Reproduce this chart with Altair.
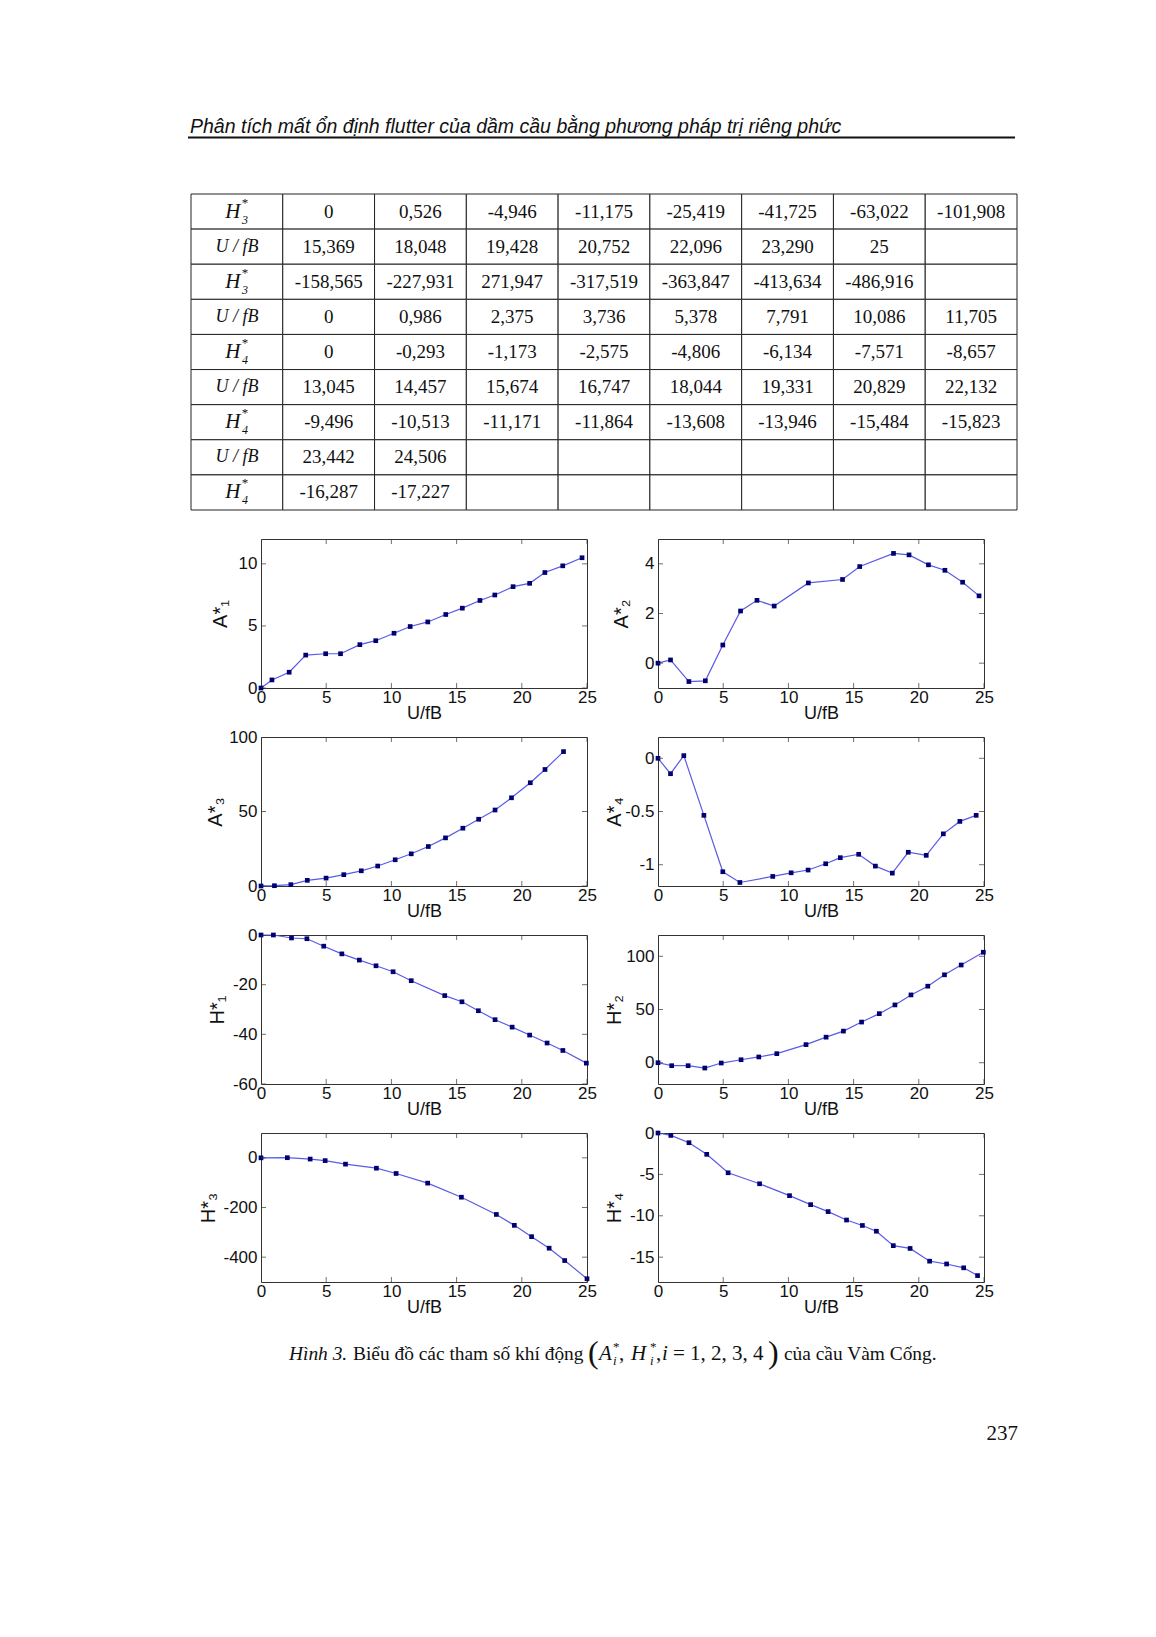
import altair as alt
import pandas as pd

SANS = "Liberation Sans, Arial, sans-serif"
SERIF = "Liberation Serif, Times New Roman, serif"
INK = "#111111"
FRAME = "#333333"
LINE = "#5a5ae6"
POINT = "#000070"

# ---------------- text content ----------------
HEADER = "Phân tích mất ổn định flutter của dầm cầu bằng phương pháp trị riêng phức"
CAPTION_LABEL = "Hình 3."
CAPTION_TEXT = "Biểu đồ các tham số khí động"
CAPTION_END = "của cầu Vàm Cống."
PAGE_NUMBER = "237"

# ---------------- table ----------------
ROW_SYMBOL = ["H", "U / fB", "H", "U / fB", "H", "U / fB", "H", "U / fB", "H"]
ROW_INDEX = ["3", "", "3", "", "4", "", "4", "", "4"]
TABLE_VALUES = [
    ["0", "0,526", "-4,946", "-11,175", "-25,419", "-41,725", "-63,022", "-101,908"],
    ["15,369", "18,048", "19,428", "20,752", "22,096", "23,290", "25", ""],
    ["-158,565", "-227,931", "271,947", "-317,519", "-363,847", "-413,634", "-486,916", ""],
    ["0", "0,986", "2,375", "3,736", "5,378", "7,791", "10,086", "11,705"],
    ["0", "-0,293", "-1,173", "-2,575", "-4,806", "-6,134", "-7,571", "-8,657"],
    ["13,045", "14,457", "15,674", "16,747", "18,044", "19,331", "20,829", "22,132"],
    ["-9,496", "-10,513", "-11,171", "-11,864", "-13,608", "-13,946", "-15,484", "-15,823"],
    ["23,442", "24,506", "", "", "", "", "", ""],
    ["-16,287", "-17,227", "", "", "", "", "", ""],
]

# ---------------- panel data ----------------
X_TICKS = [0, 5, 10, 15, 20, 25]

A1_X = [0, 0.84, 2.16, 3.43, 4.96, 6.10, 7.58, 8.80, 10.2, 11.44, 12.79, 14.17, 15.44, 16.79, 17.93, 19.33, 20.6, 21.77, 23.14, 24.62]
A1_Y = [0, 0.65, 1.27, 2.65, 2.76, 2.76, 3.49, 3.81, 4.41, 4.95, 5.32, 5.92, 6.43, 7.05, 7.49, 8.16, 8.43, 9.30, 9.84, 10.49]

A2_X = [0, 0.96, 2.37, 3.63, 4.97, 6.33, 7.59, 8.91, 11.53, 14.15, 15.47, 18.06, 19.25, 20.74, 22.0, 23.36, 24.62]
A2_Y = [0, 0.13, -0.74, -0.71, 0.73, 2.10, 2.53, 2.30, 3.23, 3.37, 3.89, 4.42, 4.36, 3.96, 3.74, 3.26, 2.71]

A3_X = [0, 1.03, 2.29, 3.55, 4.99, 6.35, 7.69, 8.95, 10.29, 11.52, 12.83, 14.15, 15.48, 16.69, 17.95, 19.21, 20.65, 21.78, 23.2]
A3_Y = [0, 0.2, 0.9, 3.8, 5.3, 7.6, 10.2, 13.4, 17.6, 21.6, 26.5, 32.3, 38.8, 44.8, 51.0, 59.2, 69.3, 78.2, 90.2]

A4_X = [0, 0.96, 1.98, 3.52, 4.97, 6.28, 8.80, 10.21, 11.51, 12.86, 13.98, 15.39, 16.67, 17.97, 19.19, 20.57, 21.88, 23.15, 24.40]
A4_Y = [0, -0.145, 0.025, -0.536, -1.066, -1.167, -1.110, -1.076, -1.050, -0.991, -0.934, -0.902, -1.013, -1.079, -0.883, -0.912, -0.710, -0.593, -0.536]

H1_X = [0, 0.95, 2.34, 3.52, 4.81, 6.2, 7.54, 8.82, 10.13, 11.52, 14.09, 15.41, 16.67, 17.95, 19.26, 20.6, 21.94, 23.15, 24.95]
H1_Y = [0, 0, -1.2, -1.5, -4.5, -7.6, -10.1, -12.4, -14.8, -18.4, -24.4, -26.9, -30.5, -34.1, -37.1, -40.3, -43.5, -46.5, -51.6]

H2_X = [0, 1.05, 2.31, 3.59, 4.85, 6.37, 7.73, 9.11, 11.35, 12.89, 14.22, 15.61, 16.97, 18.17, 19.4, 20.69, 21.97, 23.25, 24.95]
H2_Y = [0, -2.8, -2.8, -5.0, -0.3, 2.8, 5.4, 8.5, 17.0, 24.0, 29.7, 38.2, 46.1, 54.3, 63.7, 71.9, 82.6, 91.8, 103.8]

H3_X = [0, 2.02, 3.77, 4.92, 6.48, 8.85, 10.36, 12.78, 15.369, 18.048, 19.428, 20.752, 22.096, 23.290, 25]
H3_Y = [0, 0.526, -4.946, -11.175, -25.419, -41.725, -63.022, -101.908, -158.565, -227.931, -271.947, -317.519, -363.847, -413.634, -486.916]

H4_X = [0, 0.986, 2.375, 3.736, 5.378, 7.791, 10.086, 11.705, 13.045, 14.457, 15.674, 16.747, 18.044, 19.331, 20.829, 22.132, 23.442, 24.506]
H4_Y = [0, -0.293, -1.173, -2.575, -4.806, -6.134, -7.571, -8.657, -9.496, -10.513, -11.171, -11.864, -13.608, -13.946, -15.484, -15.823, -16.287, -17.227]

PANELS = [
    ("A*\u2081", A1_X, A1_Y, [0, 12], [0, 5, 10]),
    ("A*\u2082", A2_X, A2_Y, [-1, 5], [0, 2, 4]),
    ("A*\u2083", A3_X, A3_Y, [0, 100], [0, 50, 100]),
    ("A*\u2084", A4_X, A4_Y, [-1.2, 0.2], [-1, -0.5, 0]),
    ("H*\u2081", H1_X, H1_Y, [-60, 0], [-60, -40, -20, 0]),
    ("H*\u2082", H2_X, H2_Y, [-20, 120], [0, 50, 100]),
    ("H*\u2083", H3_X, H3_Y, [-500, 100], [-400, -200, 0]),
    ("H*\u2084", H4_X, H4_Y, [-18, 0], [-15, -10, -5, 0]),
]

# layout / style
PW, PH = 326, 149
YTITLE_X = [-31, -27, -36, -34, -34, -34, -43, -34]
NOFRAME = alt.ViewBackground(strokeOpacity=0)
BOX = alt.ViewBackground(stroke=FRAME, strokeOpacity=1, strokeWidth=1)


def txt(s, x, y, size, italic=False, align="left", font=SERIF):
    return alt.Chart(pd.DataFrame({"t": [s]})).mark_text(
        font=font, fontSize=size, fontStyle="italic" if italic else "normal",
        align=align, baseline="alphabetic", color=INK,
    ).encode(x=alt.value(x), y=alt.value(y), text="t:N")


# ---------------- table chart ----------------
cell_rows = []
for r, vals in enumerate(TABLE_VALUES):
    cell_rows.append({"row": r, "col": 0, "text": ""})
    for c, v in enumerate(vals):
        cell_rows.append({"row": r, "col": c + 1, "text": v})
cells = pd.DataFrame(cell_rows)
labels = pd.DataFrame({
    "row": list(range(len(ROW_SYMBOL))),
    "col": [0] * len(ROW_SYMBOL),
    "sym": ROW_SYMBOL,
    "idx": ROW_INDEX,
    "star": ["*" if i else "" for i in ROW_INDEX],
})

tx = alt.X("col:O", axis=None, scale=alt.Scale(range=[-70, 756], paddingInner=0, paddingOuter=0))
ty = alt.Y("row:O", axis=None, scale=alt.Scale(range=[0, 316], paddingInner=0, paddingOuter=0))

t_rect = alt.Chart(cells).mark_rect(fill="white", stroke="#222222", strokeWidth=1).encode(x=tx, y=ty)
t_vals = alt.Chart(cells).mark_text(font=SERIF, fontSize=19, color=INK).encode(x=tx, y=ty, text="text:N")
t_ufb = alt.Chart(labels).transform_filter("datum.idx == ''").mark_text(
    font=SERIF, fontStyle="italic", fontSize=18, color=INK).encode(x=tx, y=ty, text="sym:N")
t_h = alt.Chart(labels).transform_filter("datum.idx != ''").mark_text(
    font=SERIF, fontStyle="italic", fontSize=21, color=INK, dx=-4).encode(x=tx, y=ty, text="sym:N")
t_star = alt.Chart(labels).transform_filter("datum.idx != ''").mark_text(
    font=SERIF, fontSize=13, color=INK, dx=8, dy=-9).encode(x=tx, y=ty, text="star:N")
t_sub = alt.Chart(labels).transform_filter("datum.idx != ''").mark_text(
    font=SERIF, fontStyle="italic", fontSize=12, color=INK, dx=8, dy=8).encode(x=tx, y=ty, text="idx:N")

header = txt(HEADER, -71, -61, 19.5, italic=True, font=SANS)
underline = alt.Chart(pd.DataFrame({"t": [0]})).mark_rule(color=INK, strokeWidth=2).encode(
    x=alt.value(-73), x2=alt.value(754), y=alt.value(-56.5))
anchor = alt.Chart(pd.DataFrame({"t": [0]})).mark_rule(strokeOpacity=0, strokeWidth=0).encode(
    x=alt.value(-80), x2=alt.value(-79), y=alt.value(-100))

table_chart = alt.layer(t_rect, t_vals, t_ufb, t_h, t_star, t_sub, header, underline, anchor).properties(
    width=PW, height=296, view=NOFRAME)

filler = alt.Chart(pd.DataFrame({"v": [0]})).mark_point(opacity=0).encode(
    x=alt.X("v:Q", axis=None), y=alt.Y("v:Q", axis=None)).properties(width=PW, height=10, view=NOFRAME)


# ---------------- panels ----------------
def panel(title, xs, ys, ydom, yticks, title_x):
    df = pd.DataFrame({"x": xs, "y": ys})
    xsc = alt.Scale(domain=[0, 25], nice=False, zero=False)
    ysc = alt.Scale(domain=ydom, nice=False, zero=False)
    base = alt.Chart(df).encode(
        x=alt.X("x:Q", scale=xsc, axis=alt.Axis(values=X_TICKS, title="U/fB", labelExpr="'' + datum.value")),
        y=alt.Y("y:Q", scale=ysc, axis=alt.Axis(values=yticks, title=title, titleX=title_x,
                                                labelExpr="'' + datum.value")),
    )
    line = base.mark_line(color=LINE, strokeWidth=1.2)
    pts = base.mark_square(color=POINT, size=22, opacity=1)
    xt = pd.DataFrame({"x": X_TICKS})
    yt = pd.DataFrame({"y": yticks})
    tk = dict(size=10, thickness=1, color=FRAME, clip=True)
    tb = alt.Chart(xt).mark_tick(orient="vertical", **tk).encode(
        x="x:Q", y=alt.Y(datum=ydom[0], type="quantitative"))
    tt = alt.Chart(xt).mark_tick(orient="vertical", **tk).encode(
        x="x:Q", y=alt.Y(datum=ydom[1], type="quantitative"))
    tl = alt.Chart(yt).mark_tick(orient="horizontal", **tk).encode(
        y="y:Q", x=alt.X(datum=0, type="quantitative"))
    tr = alt.Chart(yt).mark_tick(orient="horizontal", **tk).encode(
        y="y:Q", x=alt.X(datum=25, type="quantitative"))
    return alt.layer(line, pts, tb, tt, tl, tr).properties(width=PW, height=PH, view=BOX)


panels = [panel(*p, tx_) for p, tx_ in zip(PANELS, YTITLE_X)]

# ---------------- caption + page number ----------------
caption_chart = alt.layer(
    txt(CAPTION_LABEL, 28, 29, 19.4, italic=True),
    txt(CAPTION_TEXT, 92, 29, 19.4),
    txt("(", 327, 32, 32),
    txt("A", 338, 29, 21, italic=True),
    txt("*", 352, 20, 13),
    txt("i", 352, 34, 13, italic=True),
    txt(",", 358, 29, 21),
    txt("H", 370, 29, 21, italic=True),
    txt("*", 389, 20, 13),
    txt("i", 389, 34, 13, italic=True),
    txt(",", 395, 29, 21),
    txt("i", 401, 29, 21, italic=True),
    txt("=", 412, 29, 21),
    txt("1, 2, 3, 4", 429, 29, 21),
    txt(")", 507, 32, 32),
    txt(CAPTION_END, 523, 29, 19.4),
    txt(PAGE_NUMBER, 757, 109, 21, align="right"),
).properties(width=PW, height=40, view=NOFRAME)

chart = alt.concat(
    table_chart, filler, *panels, caption_chart,
    columns=2, bounds="flush", align="each",
    spacing={"row": 49, "column": 71},
).properties(
    padding={"left": 173, "top": 86, "right": 10, "bottom": 10}
).configure_view(
    strokeOpacity=0
).configure_axis(
    labelFont=SANS, labelFontSize=17, labelColor=INK,
    titleFont=SANS, titleFontWeight="normal", titleColor=INK,
    ticks=False, domain=False, grid=False, labelFlush=False, labelOverlap=False,
).configure_axisX(
    labelPadding=1, titlePadding=-1, titleFontSize=18,
).configure_axisY(
    labelPadding=4, titleFontSize=20,
)

chart.save("out.html", embed_options={"renderer": "svg", "actions": False})
